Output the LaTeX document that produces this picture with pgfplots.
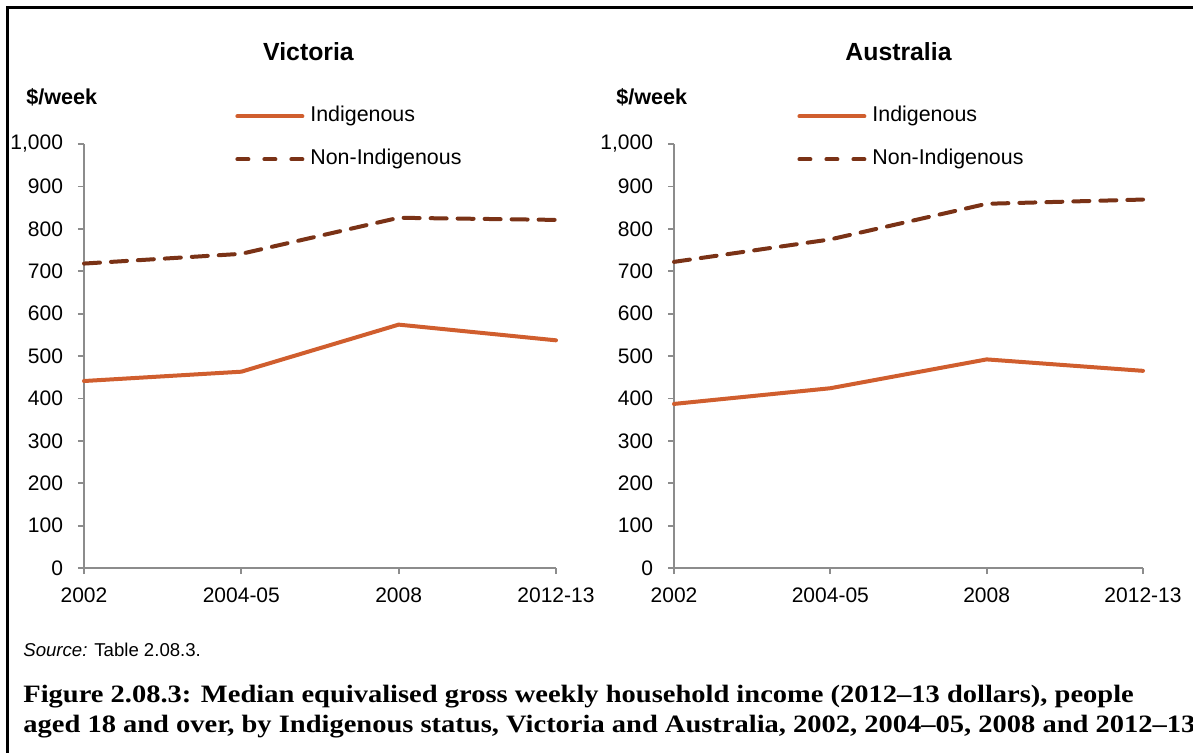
\documentclass[border=0pt]{standalone}
\usepackage{pgfplots}
\pgfplotsset{compat=1.18}
\usepackage{fontspec}
\setmainfont{Liberation Sans}
\newfontfamily\capfont[FakeStretch=1.14]{Liberation Serif}
\definecolor{indig}{RGB}{208,94,46}
\definecolor{nonind}{RGB}{122,50,22}
\definecolor{axgray}{RGB}{140,140,140}
\pgfplotsset{
  panel/.style={
    scale only axis,
    height=212bp,
    ymin=0, ymax=1000,
    xmin=0, xmax=3,
    ytick={0,100,...,1000},
    xtick={0,1,2,3},
    xticklabels={2002,2004-05,2008,2012-13},
    axis lines=left,
    axis line style={-, draw=axgray, line width=0.9bp},
    tick style={draw=axgray, line width=0.9bp},
    major tick length=3bp,
    tick align=outside,
    clip=false,
    /pgf/number format/assume math mode=true,
    /pgf/number format/1000 sep={,},
    tick label style={font=\fontsize{10.5bp}{12bp}\selectfont},
    yticklabel style={xshift=-4bp},
    xticklabel style={yshift=-3.3bp},
    legend cell align=left,
    legend style={anchor=north west, draw=none, fill=none, inner sep=0pt,
      row sep=11bp, column sep=3bp,
      font=\fontsize{10.7bp}{12bp}\selectfont,
      nodes={inner sep=0pt, text height=8bp, text depth=2.5bp}},
  },
  ind/.style={indig, line width=2bp, line cap=round, line join=round,
    legend image code/.code={\draw[indig, line width=2bp, line cap=round] (1bp,0bp) -- (33.5bp,0bp);}},
  non/.style={nonind, line width=2bp, line cap=round, line join=round, dash pattern=on 8bp off 5.5bp,
    legend image code/.code={\draw[nonind, line width=2bp, line cap=round, dash pattern=on 5.5bp off 8bp] (1bp,0bp) -- (33.5bp,0bp);}},
}
\begin{document}
\begin{tikzpicture}
\path[use as bounding box] (0,0) rectangle (596.5bp,-376.5bp);
\draw[line width=1.5bp] (3.75bp,-377bp) -- (3.75bp,-3.75bp) -- (597bp,-3.75bp);

\begin{axis}[panel, width=236bp, at={(42bp,-284bp)}, anchor=south west,
  legend style={at={(0.3199,1.0908)}}]
\addplot[ind] coordinates {(0,441) (1,463) (2,574) (3,537)};
\addlegendentry{Indigenous}
\addplot[non] coordinates {(0,718) (1,741) (2,826) (3,821)};
\addlegendentry{Non-Indigenous}
\end{axis}

\begin{axis}[panel, width=234.5bp, at={(337bp,-284bp)}, anchor=south west,
  legend style={at={(0.2623,1.0908)}}]
\addplot[ind] coordinates {(0,387) (1,424) (2,492) (3,465)};
\addlegendentry{Indigenous}
\addplot[non] coordinates {(0,722) (1,775) (2,859) (3,869)};
\addlegendentry{Non-Indigenous}
\end{axis}

\node[anchor=base, font=\bfseries\fontsize{12.4bp}{14bp}\selectfont] at (154.25bp,-30bp) {Victoria};
\node[anchor=base, font=\bfseries\fontsize{12.4bp}{14bp}\selectfont] at (449.25bp,-30bp) {Australia};
\node[anchor=base west, inner sep=0pt, font=\bfseries\fontsize{10.8bp}{12bp}\selectfont] at (13bp,-52.3bp) {\$/week};
\node[anchor=base west, inner sep=0pt, font=\bfseries\fontsize{10.8bp}{12bp}\selectfont] at (308bp,-52.3bp) {\$/week};
\node[anchor=base west, inner sep=0pt, font=\fontsize{9.3bp}{11bp}\selectfont] at (11.5bp,-328.3bp) {\textit{Source:} Table 2.08.3.};
\node[anchor=base west, inner sep=0pt, font=\capfont\bfseries\fontsize{12.5bp}{15bp}\selectfont] at (11.5bp,-351bp) {Figure 2.08.3: Median equivalised gross weekly household income (2012–13 dollars), people};
\node[anchor=base west, inner sep=0pt, font=\capfont\bfseries\fontsize{12.5bp}{15bp}\selectfont] at (11.5bp,-366bp) {aged 18 and over, by Indigenous status, Victoria and Australia, 2002, 2004–05, 2008 and 2012–13};
\end{tikzpicture}
\end{document}
